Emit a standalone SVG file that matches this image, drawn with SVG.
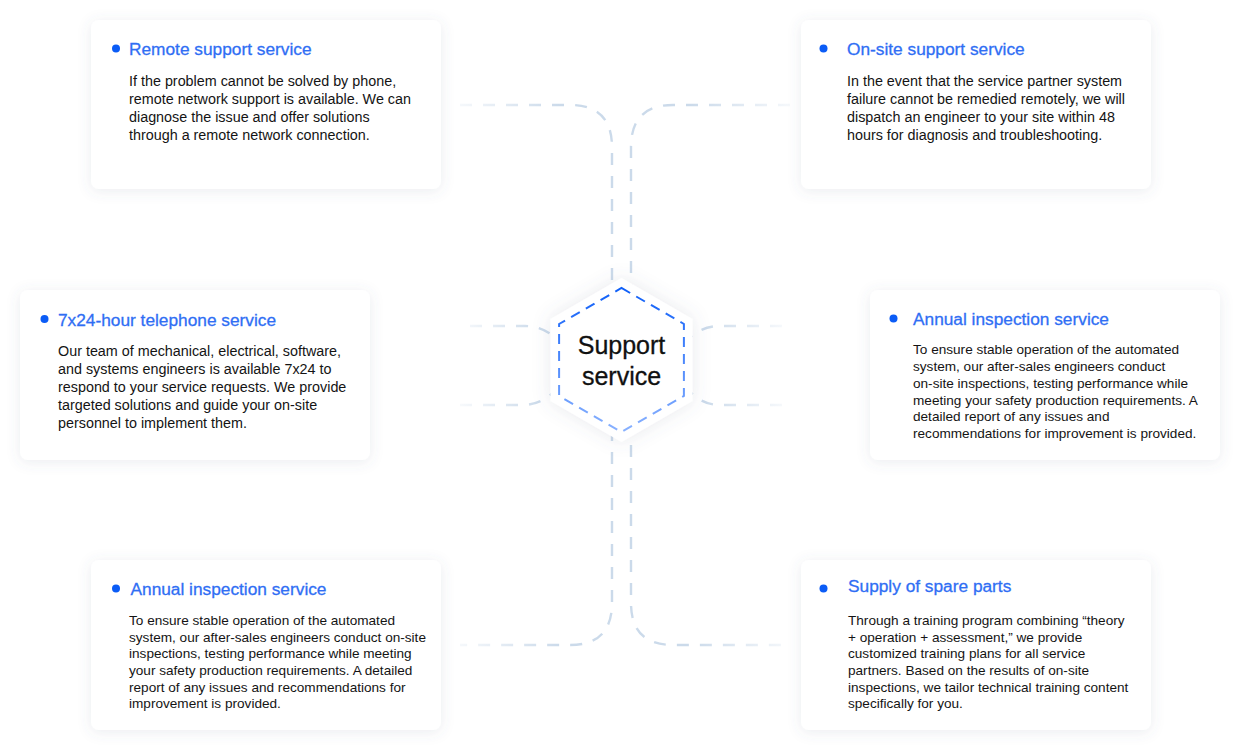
<svg xmlns="http://www.w3.org/2000/svg" width="1240" height="750" viewBox="0 0 1240 750">
<defs>
<filter id="sh" x="-20%" y="-20%" width="140%" height="140%">
<feDropShadow dx="0" dy="2" stdDeviation="7" flood-color="#5a6a80" flood-opacity="0.12"/>
</filter>
<filter id="hsh" x="-30%" y="-30%" width="160%" height="160%">
<feDropShadow dx="0" dy="0" stdDeviation="9" flood-color="#5a6a80" flood-opacity="0.14"/>
</filter>
<linearGradient id="hexg" x1="0" y1="0" x2="0" y2="1">
<stop offset="0" stop-color="#0f5ff8"/>
<stop offset="1" stop-color="#8ab2ff"/>
</linearGradient>
<linearGradient id="gl" gradientUnits="userSpaceOnUse" x1="455" y1="0" x2="560" y2="0">
<stop offset="0" stop-color="#cbdaea" stop-opacity="0.15"/>
<stop offset="1" stop-color="#cbdaea" stop-opacity="1"/>
</linearGradient>
<linearGradient id="gr" gradientUnits="userSpaceOnUse" x1="795" y1="0" x2="690" y2="0">
<stop offset="0" stop-color="#cbdaea" stop-opacity="0.15"/>
<stop offset="1" stop-color="#cbdaea" stop-opacity="1"/>
</linearGradient>
<linearGradient id="gml" gradientUnits="userSpaceOnUse" x1="460" y1="0" x2="540" y2="0">
<stop offset="0" stop-color="#cbdaea" stop-opacity="0.15"/>
<stop offset="1" stop-color="#cbdaea" stop-opacity="1"/>
</linearGradient>
<linearGradient id="gmr" gradientUnits="userSpaceOnUse" x1="785" y1="0" x2="705" y2="0">
<stop offset="0" stop-color="#cbdaea" stop-opacity="0.15"/>
<stop offset="1" stop-color="#cbdaea" stop-opacity="1"/>
</linearGradient>
</defs>
<style>
.card{fill:#ffffff;filter:url(#sh);}
.dot{fill:#0b5cf6;}
.ttl{font-family:"Liberation Sans",Arial,sans-serif;font-size:17.3px;fill:#2f6ef4;stroke:#2f6ef4;stroke-width:0.3;}
.body{font-family:"Liberation Sans",Arial,sans-serif;font-size:14.35px;fill:#141414;}
.body2{font-family:"Liberation Sans",Arial,sans-serif;font-size:13.6px;fill:#141414;}
.conn{fill:none;stroke-width:2.4;stroke-dasharray:12 11;}
.ctr{font-family:"Liberation Sans",Arial,sans-serif;font-size:25px;fill:#111111;stroke:#111111;stroke-width:0.3;text-anchor:middle;}
</style>
<rect width="1240" height="750" fill="#ffffff"/>

<g id="connectors">
<path class="conn" stroke="url(#gl)" d="M460 105 H570 Q612 105 612 147 V603 Q612 645 570 645 H460"/>
<path class="conn" stroke="url(#gr)" d="M790 105 H673 Q631 105 631 147 V603 Q631 645 673 645 H790"/>
<path class="conn" stroke="url(#gml)" d="M470 326 H525 Q547 326 562 345"/>
<path class="conn" stroke="url(#gml)" d="M460 405 H522 Q545 405 562 383"/>
<path class="conn" stroke="url(#gmr)" d="M782 326 H720 Q698 326 683 345"/>
<path class="conn" stroke="url(#gmr)" d="M782 405 H720 Q698 405 683 383"/>
</g>

<g id="center">
<polygon points="621.5,278 692.5,319 692.5,401 621.5,442 550.5,401 550.5,319" fill="#ffffff" filter="url(#hsh)"/>
<polygon points="621.5,288 683.9,324 683.9,396 621.5,432 559.1,396 559.1,324" fill="none" stroke="url(#hexg)" stroke-width="2" stroke-dasharray="10 7"/>
<text class="ctr" x="621.5" y="354">Support</text>
<text class="ctr" x="621.5" y="385">service</text>
</g>

<g id="remote">
<rect class="card" x="91" y="20" width="350" height="169" rx="8"/>
<circle class="dot" cx="116" cy="48.5" r="4"/>
<text class="ttl" x="129" y="54.5">Remote support service</text>
<text class="body" x="129" y="86">If the problem cannot be solved by phone,</text>
<text class="body" x="129" y="104">remote network support is available. We can</text>
<text class="body" x="129" y="122">diagnose the issue and offer solutions</text>
<text class="body" x="129" y="140">through a remote network connection.</text>
</g>

<g id="onsite">
<rect class="card" x="801" y="20" width="350" height="169" rx="8"/>
<circle class="dot" cx="823.5" cy="48.5" r="4"/>
<text class="ttl" x="847" y="54.5">On-site support service</text>
<text class="body" x="847" y="86">In the event that the service partner system</text>
<text class="body" x="847" y="104">failure cannot be remedied remotely, we will</text>
<text class="body" x="847" y="122">dispatch an engineer to your site within 48</text>
<text class="body" x="847" y="140">hours for diagnosis and troubleshooting.</text>
</g>

<g id="telephone">
<rect class="card" x="20" y="290" width="350" height="170" rx="8"/>
<circle class="dot" cx="44.5" cy="319" r="4"/>
<text class="ttl" x="58" y="325.5">7x24-hour telephone service</text>
<text class="body" x="58" y="356">Our team of mechanical, electrical, software,</text>
<text class="body" x="58" y="374">and systems engineers is available 7x24 to</text>
<text class="body" x="58" y="392">respond to your service requests. We provide</text>
<text class="body" x="58" y="410">targeted solutions and guide your on-site</text>
<text class="body" x="58" y="428">personnel to implement them.</text>
</g>

<g id="annual-right">
<rect class="card" x="870" y="290" width="350" height="170" rx="8"/>
<circle class="dot" cx="893.5" cy="318.5" r="4"/>
<text class="ttl" x="913" y="325">Annual inspection service</text>
<text class="body2" x="913" y="354">To ensure stable operation of the automated</text>
<text class="body2" x="913" y="371">system, our after-sales engineers conduct</text>
<text class="body2" x="913" y="387.5">on-site inspections, testing performance while</text>
<text class="body2" x="913" y="404.5">meeting your safety production requirements. A</text>
<text class="body2" x="913" y="421">detailed report of any issues and</text>
<text class="body2" x="913" y="438">recommendations for improvement is provided.</text>
</g>

<g id="annual-left">
<rect class="card" x="91" y="560" width="350" height="170" rx="8"/>
<circle class="dot" cx="116" cy="588.5" r="4"/>
<text class="ttl" x="130.5" y="594.5">Annual inspection service</text>
<text class="body2" x="129" y="625">To ensure stable operation of the automated</text>
<text class="body2" x="129" y="641.5">system, our after-sales engineers conduct on-site</text>
<text class="body2" x="129" y="658">inspections, testing performance while meeting</text>
<text class="body2" x="129" y="675">your safety production requirements. A detailed</text>
<text class="body2" x="129" y="691.5">report of any issues and recommendations for</text>
<text class="body2" x="129" y="708">improvement is provided.</text>
</g>

<g id="spare-parts">
<rect class="card" x="801" y="560" width="350" height="170" rx="8"/>
<circle class="dot" cx="823.5" cy="588.5" r="4"/>
<text class="ttl" x="848" y="591.5">Supply of spare parts</text>
<text class="body2" x="848" y="625">Through a training program combining “theory</text>
<text class="body2" x="848" y="641.5">+ operation + assessment,” we provide</text>
<text class="body2" x="848" y="658">customized training plans for all service</text>
<text class="body2" x="848" y="675">partners. Based on the results of on-site</text>
<text class="body2" x="848" y="691.5">inspections, we tailor technical training content</text>
<text class="body2" x="848" y="708">specifically for you.</text>
</g>
</svg>
